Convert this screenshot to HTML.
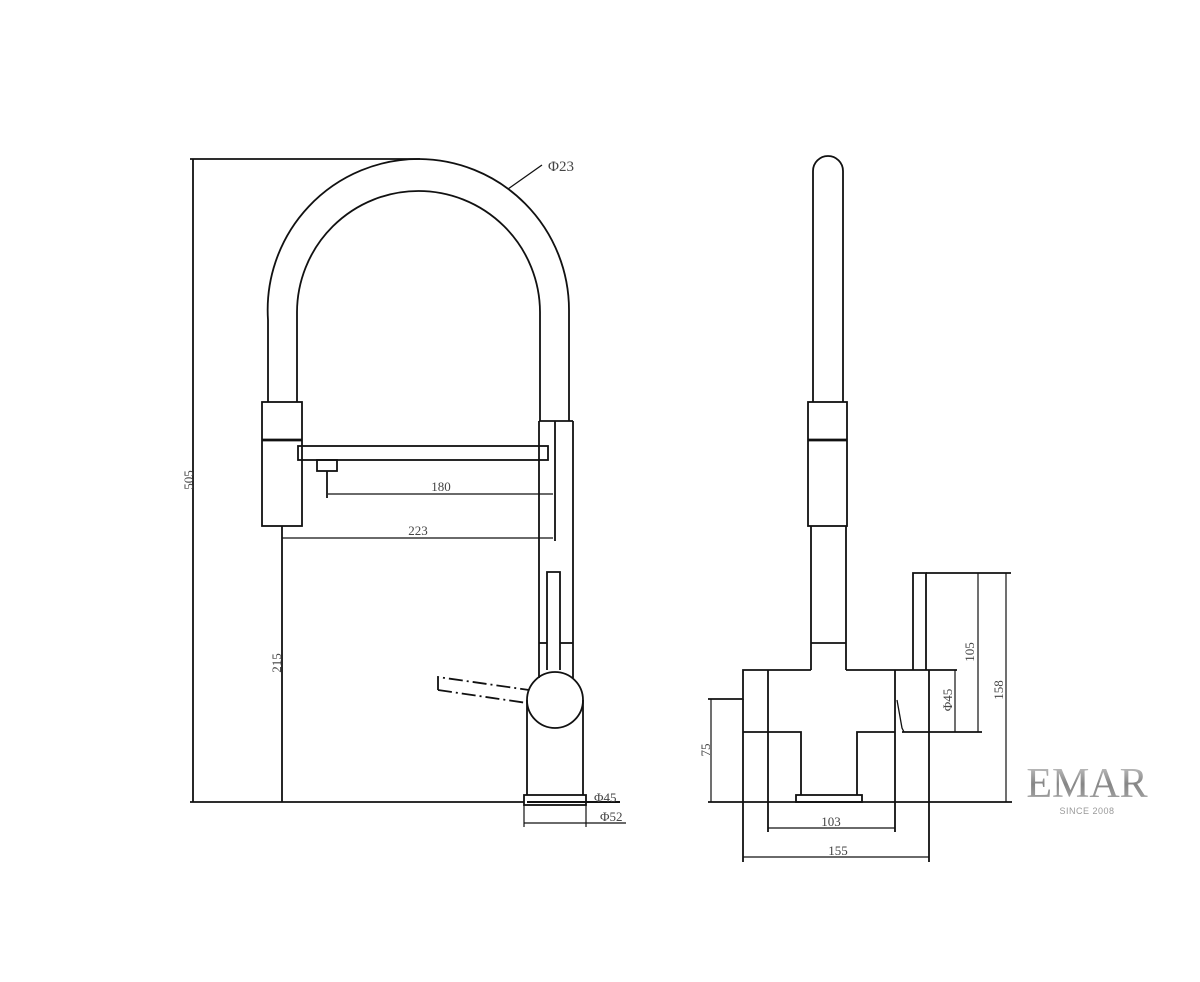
<!DOCTYPE html>
<html><head><meta charset="utf-8"><style>
html,body{margin:0;padding:0;background:#fff;}
svg{display:block}
text{font-family:"Liberation Serif",serif;fill:#444;font-size:13px}
</style></head><body>
<svg width="1200" height="982" viewBox="0 0 1200 982" xmlns="http://www.w3.org/2000/svg">
<defs>
<linearGradient id="g" x1="0" y1="0" x2="0" y2="1">
<stop offset="0" stop-color="#d0d0d0"/><stop offset="0.5" stop-color="#858585"/><stop offset="1" stop-color="#b0b0b0"/>
</linearGradient>
</defs>
<g fill="none" stroke="#111" stroke-width="1.8">
<!-- LEFT VIEW -->
<line x1="190" y1="159" x2="420" y2="159"/>
<line x1="193" y1="159" x2="193" y2="802"/>
<line x1="190" y1="802" x2="524" y2="802"/>
<path d="M268 402 L268 320 A151 151 0 0 1 419 159 A151 151 0 0 1 569 310 L569 421"/>
<path d="M297 402 L297 312 A121.5 121.5 0 0 1 418.5 191 A121.5 121.5 0 0 1 540 312 L540 421"/>
<rect x="262" y="402" width="40" height="124"/>
<line x1="262" y1="440" x2="302" y2="440" stroke-width="2.8"/>
<rect x="298" y="446" width="250" height="14"/>
<rect x="317" y="460" width="20" height="11"/>
<line x1="327" y1="471" x2="327" y2="498"/>
<line x1="328" y1="494" x2="553" y2="494" stroke-width="1.2"/>
<line x1="282" y1="526" x2="282" y2="802"/>
<line x1="282" y1="538" x2="553" y2="538" stroke-width="1.2"/>
<line x1="555" y1="421" x2="555" y2="541"/>
<line x1="539" y1="421" x2="573" y2="421"/>
<line x1="539" y1="421" x2="539" y2="678"/>
<line x1="573" y1="421" x2="573" y2="678"/>
<line x1="539" y1="643" x2="547" y2="643"/>
<line x1="560" y1="643" x2="573" y2="643"/>
<path d="M547 670 L547 572 L560 572 L560 670"/>
<circle cx="555" cy="700" r="28"/>
<line x1="527" y1="700" x2="527" y2="795"/>
<line x1="583" y1="700" x2="583" y2="795"/>
<rect x="524" y="795" width="62" height="10"/>
<line x1="527" y1="802" x2="620" y2="802" stroke-width="2"/>
<line x1="524" y1="805" x2="524" y2="827" stroke-width="1.2"/>
<line x1="586" y1="805" x2="586" y2="827" stroke-width="1.2"/>
<line x1="524" y1="823" x2="626" y2="823" stroke-width="1.2"/>
<path d="M438 690 L438 677 L529 690" stroke-dasharray="14 4 2 4"/>
<line x1="438" y1="690" x2="527" y2="703" stroke-dasharray="14 4 2 4"/>
<line x1="508" y1="189" x2="542" y2="165" stroke-width="1.3"/>
<!-- RIGHT VIEW -->
<path d="M813 402 L813 171 A15 15 0 0 1 843 171 L843 402"/>
<rect x="808" y="402" width="39" height="124"/>
<line x1="808" y1="440" x2="847" y2="440" stroke-width="2.8"/>
<line x1="811" y1="526" x2="811" y2="670"/>
<line x1="846" y1="526" x2="846" y2="670"/>
<line x1="811" y1="643" x2="846" y2="643"/>
<path d="M811 670 L743 670 L743 699 L708 699"/>
<line x1="846" y1="670" x2="957" y2="670"/>
<line x1="743" y1="699" x2="743" y2="862"/>
<line x1="768" y1="670" x2="768" y2="832"/>
<line x1="895" y1="670" x2="895" y2="832"/>
<line x1="929" y1="670" x2="929" y2="862"/>
<path d="M743 732 L801 732 L801 795"/>
<path d="M895 732 L857 732 L857 795"/>
<rect x="796" y="795" width="66" height="7"/>
<line x1="708" y1="802" x2="1012" y2="802"/>
<line x1="711" y1="699" x2="711" y2="802" stroke-width="1.2"/>
<path d="M913 670 L913 573 L926 573 L926 670"/>
<line x1="926" y1="573" x2="1011" y2="573"/>
<path d="M897 700 L902 728 L904 732" stroke-width="1.3"/>
<line x1="902" y1="732" x2="982" y2="732"/>
<line x1="955" y1="670" x2="955" y2="732" stroke-width="1.2"/>
<line x1="978" y1="573" x2="978" y2="732" stroke-width="1.2"/>
<line x1="1006" y1="573" x2="1006" y2="802" stroke-width="1.2"/>
<line x1="768" y1="828" x2="895" y2="828" stroke-width="1.2"/>
<line x1="743" y1="857" x2="929" y2="857" stroke-width="1.2"/>
</g>
<text x="548" y="171" style="font-size:15px">Φ23</text>
<text x="441" y="491" text-anchor="middle">180</text>
<text x="418" y="535" text-anchor="middle">223</text>
<text transform="translate(193,480) rotate(-90)" text-anchor="middle">505</text>
<text transform="translate(281,663) rotate(-90)" text-anchor="middle">215</text>
<text x="594" y="802">Φ45</text>
<text x="600" y="821">Φ52</text>
<text transform="translate(710,750) rotate(-90)" text-anchor="middle">75</text>
<text transform="translate(974,652) rotate(-90)" text-anchor="middle">105</text>
<text transform="translate(952,700) rotate(-90)" text-anchor="middle">Φ45</text>
<text transform="translate(1003,690) rotate(-90)" text-anchor="middle">158</text>
<text x="831" y="826" text-anchor="middle">103</text>
<text x="838" y="855" text-anchor="middle">155</text>
<text x="1087" y="797" text-anchor="middle" style="font-size:42px;fill:url(#g)">EMAR</text>
<text x="1087" y="814" text-anchor="middle" style="font-family:'Liberation Sans',sans-serif;font-size:9px;fill:#999;letter-spacing:0.5px">SINCE 2008</text>
</svg>
</body></html>
